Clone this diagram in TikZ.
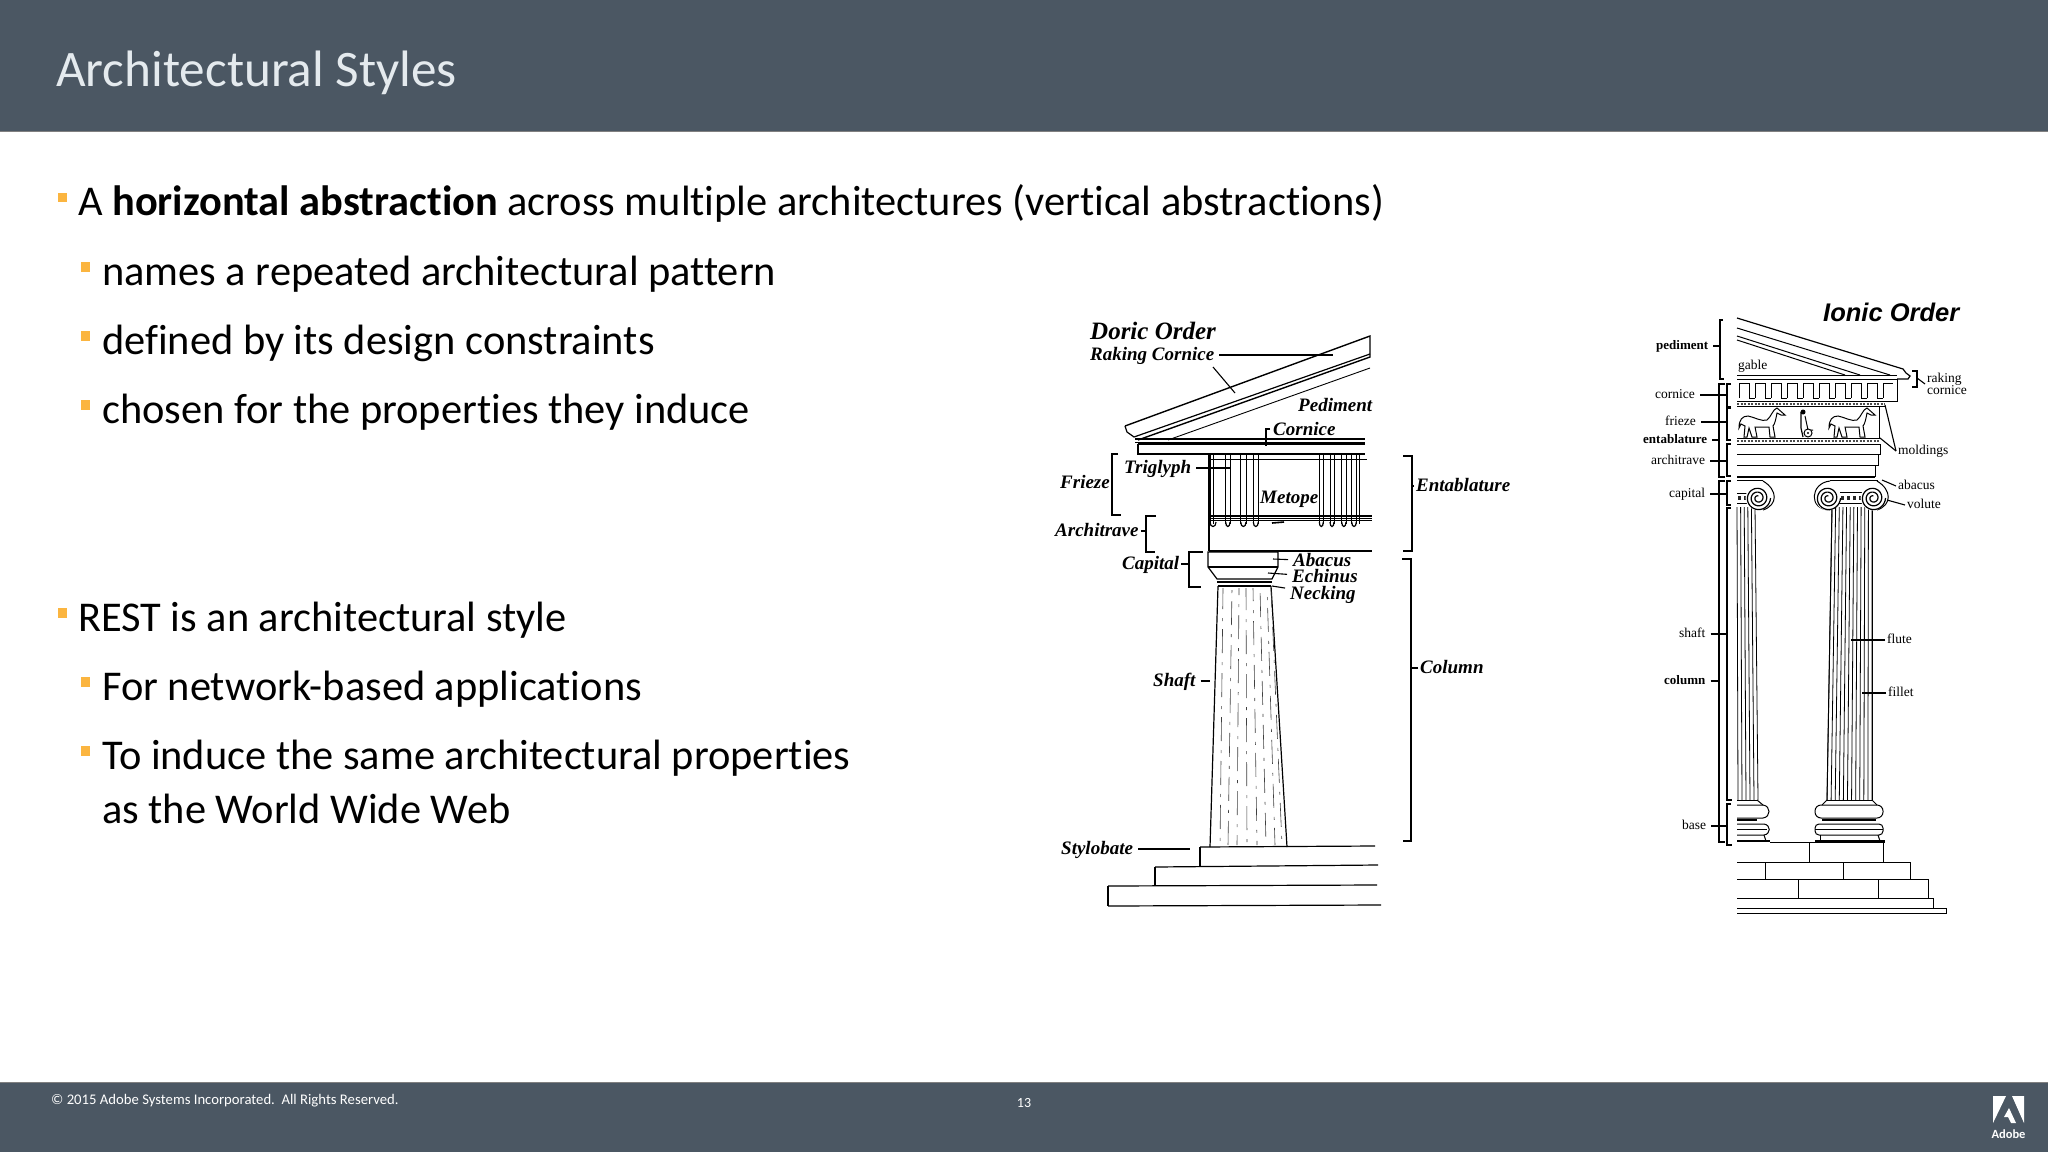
\documentclass[tikz,border=0pt]{standalone}
\usepackage{fontspec}
\usepackage{xcolor}
\setmainfont[Ligatures=NoCommon]{Carlito}
\newfontfamily\plateface{Liberation Serif}
\newfontfamily\ordersans{Liberation Sans}
\usetikzlibrary{shapes.geometric, arrows}
\definecolor{slate}{HTML}{4B5763}
\definecolor{bulletgold}{HTML}{FBB540}
\tikzstyle{bodyone} = [font=\fontsize{42.4}{42.4}\selectfont, anchor=base west, inner sep=0pt, text=black]
\tikzstyle{bullet} = [rectangle, fill=bulletgold, minimum size=9.5pt, inner sep=0pt]
\tikzstyle{foottext} = [font=\fontsize{14.7}{14.7}\selectfont, text=white, inner sep=0pt]
\tikzstyle{doric} = [font=\plateface\fontsize{19}{19}\selectfont\bfseries\itshape, anchor=west, inner sep=2pt, text height=15pt, text depth=4pt]
\tikzstyle{ionic} = [font=\plateface\fontsize{13.5}{13.5}\selectfont, anchor=west, inner sep=2pt, text height=9pt, text depth=3pt]
\tikzstyle{ionicbold} = [font=\plateface\fontsize{13}{13}\selectfont\bfseries]
\tikzstyle{leader} = [line width=1.1pt, shorten <=3pt]
\tikzstyle{bracket} = [line width=1.1pt]
\tikzstyle{doricline} = [line width=1.2pt, line join=miter]
\tikzstyle{ionicline} = [line width=1pt]
\begin{document}
\begin{tikzpicture}[x=1pt, y=-1pt]
    \useasboundingbox (0,0) rectangle (2048,1152);
    \fill [white] (0,0) rectangle (2048,1152);
    \fill [slate] (0,0) rectangle (2048,131);
    \fill [slate] (0,1082) rectangle (2048,1152);
    \draw [gray, line width=1pt] (0,131) -- (2048,131);
    \draw [gray, line width=1pt] (0,1082) -- (2048,1082);

    \node (title) [bodyone, font=\fontsize{51.2}{51.2}\selectfont, text={rgb,255:red,228;green,234;blue,238}] at (56,86) {Architectural Styles};

    \node (bul1) [bullet] at (62.5,197.5) {};
    \node (bul2) [bullet] at (85.5,267) {};
    \node (bul3) [bullet] at (85.5,336) {};
    \node (bul4) [bullet] at (85.5,405) {};
    \node (bul5) [bullet] at (62.5,613) {};
    \node (bul6) [bullet] at (85.5,682) {};
    \node (bul7) [bullet] at (85.5,751) {};
    \node (line1) [bodyone] at (78,215) {A \textbf{horizontal abstraction} across multiple architectures (vertical abstractions)};
    \node (line2) [bodyone] at (102,285) {names a repeated architectural pattern};
    \node (line3) [bodyone] at (102,354) {defined by its design constraints};
    \node (line4) [bodyone] at (102,423) {chosen for the properties they induce};
    \node (line5) [bodyone] at (78,631) {REST is an architectural style};
    \node (line6) [bodyone] at (102,700) {For network-based applications};
    \node (line7) [bodyone] at (102,769) {To induce the same architectural properties};
    \node (line8) [bodyone] at (102,823) {as the World Wide Web};

    \node (copy) [foottext, anchor=west] at (51,1101) {© 2015 Adobe Systems Incorporated.\ \ All Rights Reserved.};
    \node (page) [foottext, font=\fontsize{14}{14}\selectfont] at (1024,1103) {13};
    \node (adobe) [foottext, font=\fontsize{12.5}{12.5}\selectfont\bfseries] at (2008.5,1134) {Adobe};
    \fill [white] (1993,1096) -- (2006,1096) -- (1993,1123) -- cycle;
    \fill [white] (2012,1096) -- (2024,1096) -- (2024,1123) -- cycle;
    \fill [white] (2009,1108) -- (2016,1123) -- (2011,1123) -- (2008,1117) -- (2004,1117) -- cycle;

    \draw [doricline, line width=1.4pt] (1125,426) -- (1370,336) -- (1370,357) -- (1138,440);
    \draw [doricline] (1125,426) -- (1127,432) -- (1134,437) -- (1370,354);
    \draw [doricline, line width=.9pt] (1370,368) -- (1168,440);
    \draw [doricline] (1135,439) -- (1365,439);
    \draw [doricline] (1135,442.5) -- (1365,442.5);
    \draw [doricline] (1138,444) -- (1365,444);
    \draw [doricline] (1138,444) -- (1138,454) -- (1365,454);
    \draw [doricline] (1210,459.5) -- (1367,459.5);
    \foreach \x in {1210,1213.3,1225.7,1230,1240.7,1246,1253.3,1258.3,1319.3,1323.3,1330,1334,1341.7,1346,1351.7,1356,1359.3}
        \draw [doricline, line width=1pt] (\x,454) -- (\x,524);
    \foreach \x/\w in {1210/6,1225.7/4.3,1240.7/5.3,1253.3/5,1319.3/4,1330/4,1341.7/4.3,1351.7/4.6}
        \draw [doricline] (\x,522) .. controls (\x,528) and (\x+\w,528) .. (\x+\w,522);
    \foreach \y in {516,518.3,520.7}
        \draw [doricline] (1208,\y) -- (1372,\y);
    \draw [doricline, line width=1.6pt] (1272,523) -- (1284,522);
    \draw [doricline] (1209,454) -- (1209,551);
    \draw [doricline] (1209,551) -- (1372,551);
    \draw [doricline] (1208,552) -- (1278,552) -- (1278,567) -- (1272,579) -- (1217,579) -- (1208,567) -- cycle;
    \draw [doricline] (1208,567) -- (1278,567);
    \draw [doricline] (1217,582) -- (1272,582);
    \draw [doricline] (1218,586) -- (1271,586);
    \draw [doricline] (1218,586) -- (1210,847);
    \draw [doricline] (1271,586) -- (1287,847);
    \foreach \t/\b/\p in {1223/1220/3,1232/1228/31,1239/1237/17,1246/1247/46,1253/1257/11,1260/1266/39,1267/1275/24,1271/1282/5}
        \draw [line width=.6pt, black!75, dash pattern=on 24pt off 9pt on 3pt off 8pt, dash phase=\p pt] (\t,588) -- (\b,845);
    \draw [doricline] (1200,847) -- (1375,846);
    \draw [doricline] (1200,847) -- (1200,866);
    \draw [doricline] (1155,867) -- (1378,865);
    \draw [doricline] (1155,867) -- (1155,885);
    \draw [doricline] (1108,886) -- (1377,885);
    \draw [doricline] (1108,886) -- (1108,906);
    \draw [doricline] (1108,906) -- (1381,905);

    \node (doricorder) [doric, font=\plateface\fontsize{25}{25}\selectfont\bfseries\itshape] at (1088,334) {Doric Order};
    \node (raking) [doric] at (1088,355) {Raking Cornice};
    \node (pediment) [doric] at (1296,406) {Pediment};
    \node (cornice) [doric] at (1271,430) {Cornice};
    \node (frieze) [doric] at (1058,483) {Frieze};
    \node (triglyph) [doric] at (1122,468) {Triglyph};
    \node (metope) [doric] at (1258,498) {Metope};
    \node (architrave) [doric] at (1053,531) {Architrave};
    \node (capital) [doric] at (1120,564) {Capital};
    \node (abacus) [doric] at (1291,561) {Abacus};
    \node (echinus) [doric] at (1290,577) {Echinus};
    \node (necking) [doric] at (1288,594) {Necking};
    \node (entablature) [doric] at (1414,486) {Entablature};
    \node (column) [doric] at (1418,668) {Column};
    \node (shaft) [doric] at (1151,681) {Shaft};
    \node (stylobate) [doric] at (1059,849) {Stylobate};

    \coordinate (rakinga) at (1333,355);
    \coordinate (rakingb) at (1235,393);
    \coordinate (rakingc) at (1213,367);
    \coordinate (triglypha) at (1230,468);
    \coordinate (abacusa) at (1273,559);
    \coordinate (echinusa) at (1268,573);
    \coordinate (neckinga) at (1272,586);
    \coordinate (shafta) at (1210,681);
    \coordinate (stylobatea) at (1190,849);
    \coordinate (capitala) at (1189,564);
    \coordinate (architravea) at (1146,531);
    \coordinate (entablaturea) at (1412,486);
    \coordinate (columna) at (1411,668);
    \draw [leader] (raking) -- (rakinga);
    \draw [bracket] (rakingc) -- (rakingb);
    \draw [leader] (triglyph) -- (triglypha);
    \draw [leader] (abacus) -- (abacusa);
    \draw [leader] (echinus) -- (echinusa);
    \draw [leader] (necking) -- (neckinga);
    \draw [leader] (shaft) -- (shafta);
    \draw [leader] (stylobate) -- (stylobatea);
    \draw [bracket] (capital) -- (capitala);
    \draw [bracket] (architrave) -- (architravea);
    \draw [bracket] (entablature) -- (entablaturea);
    \draw [bracket] (column) -- (columna);
    \draw [bracket] (1270,429) -- (1266,429) -- (1266,446);
    \draw [bracket] (1118,454) -- (1112,454) -- (1112,515) -- (1121,515);
    \draw [bracket] (1156,516) -- (1146,516) -- (1146,552) -- (1155,552);
    \draw [bracket] (1203,552) -- (1189,552) -- (1189,587) -- (1201,587);
    \draw [bracket] (1403,456) -- (1412,456) -- (1412,551) -- (1403,551);
    \draw [bracket] (1402,559) -- (1411,559) -- (1411,841) -- (1403,841);

    \draw [ionicline, line width=1.2pt] (1737,318) -- (1903,369) -- (1906,373) -- (1910,376) -- (1908,379) -- (1897,379);
    \draw [ionicline] (1737,328) -- (1890,375);
    \draw [ionicline] (1737,336) -- (1860,375);
    \draw [ionicline] (1737,340) -- (1845,375);
    \draw [ionicline] (1737,375) -- (1897,375);
    \draw [ionicline] (1737,379) -- (1897,379) -- (1897,401) -- (1737,401);
    \foreach \x in {0,...,8}
        \draw [ionicline] (1739+\x*16,398) -- (1739+\x*16,383.5) -- (1749+\x*16,383.5) -- (1749+\x*16,398) -- (1755+\x*16,398);
    \draw [ionicline] (1883,398) -- (1883,383.5) -- (1893,383.5);
    \draw [ionicline] (1737,406) -- (1885,406);
    \draw [ionicline, line width=2.5pt, black!70, dash pattern=on 2pt off 1.5pt] (1737,404) -- (1885,404);
    \draw [ionicline] (1879,406) -- (1879,438);
    \draw [ionicline] (1737,438) -- (1880,438);
    \draw [ionicline] (1737,444) -- (1880,444);
    \draw [ionicline, line width=2.5pt, black!70, dash pattern=on 2pt off 1.5pt] (1737,441) -- (1880,441);
    \draw [ionicline] (1880,444) -- (1880,454) -- (1737,454);
    \draw [ionicline] (1878,454) -- (1878,465) -- (1737,465);
    \draw [ionicline] (1875,465) -- (1875,477);
    \draw [ionicline, line width=1.5pt] (1737,477) -- (1875,477);
    \draw [ionicline, line width=1.5pt] (1737,480.5) -- (1763,480.5);
    \draw [ionicline, line width=1.5pt] (1830,480.5) -- (1878,480.5);
    \foreach \i in {0,...,5}
        \draw [ionicline, line width=.8pt] (1737+\i*3.6,507) -- (1738+\i*4,800);
    \foreach \i in {0,...,11}
        \draw [ionicline, line width=.8pt] ({1832+\i*3.64},507) -- ({1827+\i*4.09},800);
    \draw [ionicline] (1832,507) -- (1827,800);
    \draw [ionicline] (1872,507) -- (1872,800);
    \draw [ionicline] (1763,481) .. controls (1778,490) and (1778,505) .. (1763,510);
    \draw [ionicline] (1877,481) .. controls (1892,490) and (1892,505) .. (1877,510);
    \draw [ionicline] (1830,481) .. controls (1810,483) and (1808,510) .. (1830,510);
    \draw [ionicline] (1737,493) -- (1748,493);
    \draw [ionicline] (1840,492) -- (1862,492);
    \draw [ionicline, line width=4pt, black!85, dash pattern=on 3pt off 3pt] (1738,498) -- (1750,498);
    \draw [ionicline, line width=4pt, black!85, dash pattern=on 3pt off 3pt] (1841,498) -- (1862,498);
    \draw [ionicline] (1737,503) -- (1748,503);
    \draw [ionicline] (1838,503) -- (1864,503);
    \foreach \cx/\cy in {1758/498,1828/498,1873/498} {
        \fill [white] (\cx,\cy) circle (12.5pt);
        \draw [ionicline, line width=1.2pt, variable=\t, samples=90, domain=0:1000] plot ({\cx+(12.5-\t*0.0105)*cos(\t)},{\cy+(12.5-\t*0.0105)*sin(\t)});
    }
    \foreach \dx in {0,90} {
        \begin{scope}[shift={(\dx,0)}]
            \draw [ionicline, fill=white] (1739,428) .. controls (1739,420) and (1742,416) .. (1748,416) .. controls (1754,417) and (1762,422) .. (1767,420) .. controls (1771,417) and (1773,409) .. (1777,408) -- (1785,415) -- (1781,415) -- (1777,413) .. controls (1776,418) and (1775,424) .. (1773,426) -- (1775,437) -- (1770,437) -- (1769,427) -- (1755,427) -- (1757,437) -- (1752,437) -- (1749,428) -- (1747,437) -- (1744,437) -- (1745,426) -- (1741,424) -- cycle;
        \end{scope}
    }
    \draw [ionicline, line width=1.2pt] (1801,412) -- (1801,428) -- (1803,437);
    \fill (1803,412) circle (2.5pt);
    \draw [ionicline] (1805,416) -- (1808,430) -- (1813,430);
    \draw [ionicline, fill=white] (1808,433) circle (4pt);
    \fill (1808,433) circle (1.2pt);

    \draw [ionicline] (1737,800) -- (1757,800);
    \draw [ionicline] (1737,805) -- (1763,805) .. controls (1771,806) and (1771,817) .. (1763,818) -- (1737,818);
    \draw [ionicline, line width=2pt] (1737,820) -- (1757,820);
    \draw [ionicline] (1737,824) -- (1764,824) .. controls (1771,825) and (1771,834) .. (1764,835) -- (1737,835);
    \draw [ionicline] (1737,829) -- (1767,829);
    \draw [ionicline] (1757,800) -- (1763,805);
    \draw [ionicline] (1764,835) -- (1766,841);
    \draw [ionicline, line width=1.6pt] (1737,841) -- (1770,841);
    \draw [ionicline] (1827,800) -- (1872,800);
    \draw [ionicline] (1827,800) -- (1822,805);
    \draw [ionicline] (1872,800) -- (1877,805);
    \draw [ionicline, rounded corners=6pt] (1815,805) rectangle (1883,818);
    \draw [ionicline, line width=2pt] (1822,820) -- (1876,820);
    \draw [ionicline, rounded corners=4pt] (1815,824) rectangle (1883,835);
    \draw [ionicline] (1815,829) -- (1883,829);
    \draw [ionicline] (1820,835) -- (1820,841);
    \draw [ionicline] (1878,835) -- (1880,841);
    \draw [ionicline, line width=1.6pt] (1815,841) -- (1885,841);
    \draw [ionicline] (1770,842) -- (1885,842);
    \draw [ionicline] (1809,842) -- (1809,862);
    \draw [ionicline] (1883,842) -- (1883,862);
    \draw [ionicline] (1737,862) -- (1910,862) -- (1910,879);
    \draw [ionicline] (1765,862) -- (1765,879);
    \draw [ionicline] (1843,862) -- (1843,879);
    \draw [ionicline] (1737,879) -- (1928,879) -- (1928,898);
    \draw [ionicline] (1798,879) -- (1798,898);
    \draw [ionicline] (1878,879) -- (1878,898);
    \draw [ionicline] (1737,898) -- (1933,898) -- (1933,908);
    \draw [ionicline] (1737,908) -- (1946,908) -- (1946,913) -- (1737,913);

    \node (ionicorder) [font=\ordersans\fontsize{25.5}{25.5}\selectfont\bfseries\itshape, anchor=west, inner sep=2pt] at (1821,312) {Ionic Order};
    \node (ipediment) [ionic, ionicbold] at (1654,346) {pediment};
    \node (gable) [ionic] at (1736,366) {gable};
    \node (icornice) [ionic] at (1653,395) {cornice};
    \node (ifrieze) [ionic] at (1663,422) {frieze};
    \node (ientablature) [ionic, ionicbold] at (1641,440) {entablature};
    \node (iarchitrave) [ionic] at (1649,461) {architrave};
    \node (icapital) [ionic] at (1667,494) {capital};
    \node (ishaft) [ionic] at (1677,634) {shaft};
    \node (icolumn) [ionic, ionicbold] at (1662,681) {column};
    \node (ibase) [ionic] at (1680,826) {base};
    \node (iraking) [ionic, align=left, text height=, text depth=] at (1925,384) {raking\\[-1pt]cornice};
    \node (moldings) [ionic] at (1896,451) {moldings};
    \node (iabacus) [ionic] at (1896,486) {abacus};
    \node (volute) [ionic] at (1905,505) {volute};
    \node (flute) [ionic] at (1885,640) {flute};
    \node (fillet) [ionic] at (1886,693) {fillet};

    \coordinate (ipedimenta) at (1720,346);
    \coordinate (icornicea) at (1727,395);
    \coordinate (ifriezea) at (1727,422);
    \coordinate (ientablaturea) at (1719,440);
    \coordinate (iarchitravea) at (1727,461);
    \coordinate (icapitala) at (1727,494);
    \coordinate (ishafta) at (1727,634);
    \coordinate (icolumna) at (1719,681);
    \coordinate (ibasea) at (1727,826);
    \coordinate (ifluteend) at (1851,640);
    \coordinate (ifilletend) at (1862,693);
    \coordinate (imolda) at (1885,405);
    \coordinate (imoldb) at (1880,438);
    \coordinate (iabacusa) at (1882,480);
    \coordinate (ivolutea) at (1887,500);
    \coordinate (irakinga) at (1917,378);
    \draw [leader] (ipediment) -- (ipedimenta);
    \draw [leader] (icornice) -- (icornicea);
    \draw [leader] (ifrieze) -- (ifriezea);
    \draw [leader] (ientablature) -- (ientablaturea);
    \draw [leader] (iarchitrave) -- (iarchitravea);
    \draw [leader] (icapital) -- (icapitala);
    \draw [leader] (ishaft) -- (ishafta);
    \draw [leader] (icolumn) -- (icolumna);
    \draw [leader] (ibase) -- (ibasea);
    \draw [bracket] (flute) -- (ifluteend);
    \draw [bracket] (fillet) -- (ifilletend);
    \draw [bracket] (moldings.west) -- (imolda);
    \draw [bracket] (moldings.west) -- (imoldb);
    \draw [bracket] (iabacus.west) -- (iabacusa);
    \draw [bracket] (volute.west) -- (ivolutea);
    \draw [bracket] (iraking.west) -- (irakinga);
    \draw [bracket] (1912,371) -- (1917,371) -- (1917,387) -- (1912,387);
    \draw [bracket] (1723,320) -- (1720,320) -- (1720,379) -- (1724,379);
    \draw [bracket] (1725,384) -- (1719,384) -- (1719,477) -- (1725,477);
    \draw [bracket] (1725,481) -- (1719,481) -- (1719,842) -- (1725,842);
    \draw [bracket] (1731,384) -- (1727,384) -- (1727,407) -- (1731,407);
    \draw [bracket] (1731,408) -- (1727,408) -- (1727,440) -- (1731,440);
    \draw [bracket] (1731,444) -- (1727,444) -- (1727,476) -- (1731,476);
    \draw [bracket] (1731,481) -- (1727,481) -- (1727,505) -- (1731,505);
    \draw [bracket] (1731,508) -- (1727,508) -- (1727,800) -- (1732,800);
    \draw [bracket] (1731,804) -- (1727,804) -- (1727,845) -- (1732,845);
\end{tikzpicture}
\end{document}
